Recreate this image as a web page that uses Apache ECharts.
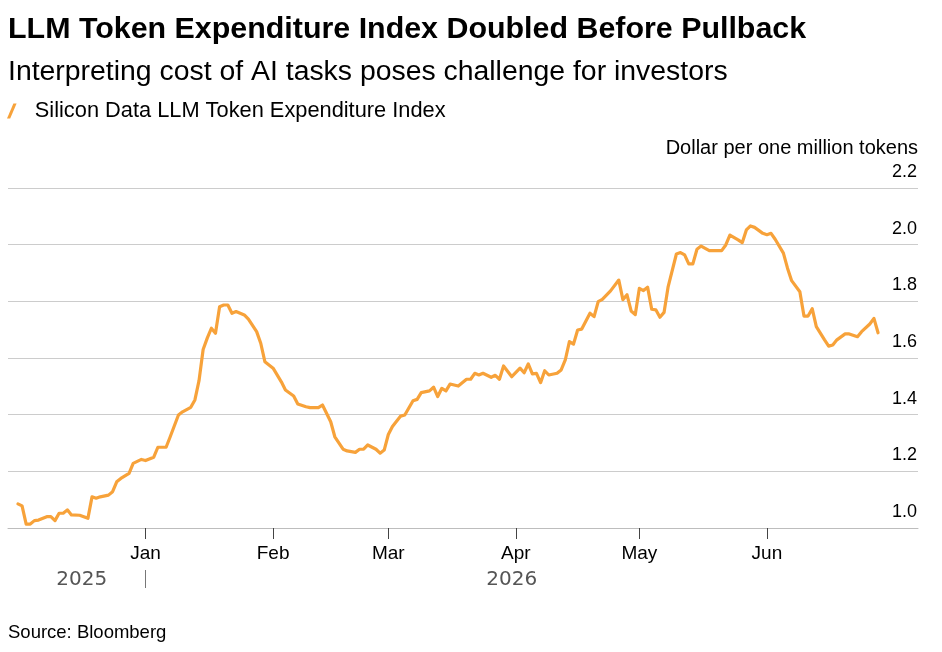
<!DOCTYPE html>
<html>
<head>
<meta charset="utf-8">
<script src="https://cdn.jsdelivr.net/npm/echarts@6/dist/echarts.min.js"></script>
<style>
html,body{margin:0;padding:0;background:#fff;}
#chart{width:942px;height:652px;}
</style>
</head>
<body>
<div id="chart"></div>
<script>
const TITLE = 'LLM Token Expenditure Index Doubled Before Pullback';
const SUBTITLE = 'Interpreting cost of AI tasks poses challenge for investors';
const SERIES_NAME = 'Silicon Data LLM Token Expenditure Index';
const UNIT = 'Dollar per one million tokens';
const SOURCE = 'Source: Bloomberg';

const dates = [
'2025-12-01','2025-12-02','2025-12-03','2025-12-04','2025-12-05','2025-12-06','2025-12-08','2025-12-09','2025-12-10','2025-12-11','2025-12-12','2025-12-13','2025-12-14','2025-12-16','2025-12-18','2025-12-19','2025-12-20','2025-12-21','2025-12-23','2025-12-24','2025-12-25','2025-12-26','2025-12-28','2025-12-29','2025-12-31',
'2026-01-01','2026-01-03','2026-01-04','2026-01-06','2026-01-07','2026-01-09','2026-01-10','2026-01-12','2026-01-13','2026-01-14','2026-01-15','2026-01-16','2026-01-17','2026-01-18','2026-01-19','2026-01-20','2026-01-21','2026-01-22','2026-01-23','2026-01-25','2026-01-26','2026-01-28','2026-01-29','2026-01-30',
'2026-02-01','2026-02-03','2026-02-04','2026-02-06','2026-02-07','2026-02-09','2026-02-10','2026-02-12','2026-02-13','2026-02-15','2026-02-16','2026-02-18','2026-02-19','2026-02-21','2026-02-22','2026-02-23','2026-02-24','2026-02-26','2026-02-27','2026-02-28',
'2026-03-01','2026-03-02','2026-03-04','2026-03-05','2026-03-07','2026-03-08','2026-03-09','2026-03-11','2026-03-12','2026-03-13','2026-03-14','2026-03-15','2026-03-16','2026-03-18','2026-03-20','2026-03-21','2026-03-22','2026-03-23','2026-03-24','2026-03-26','2026-03-27','2026-03-28','2026-03-29','2026-03-31',
'2026-04-02','2026-04-03','2026-04-04','2026-04-05','2026-04-06','2026-04-07','2026-04-08','2026-04-09','2026-04-11','2026-04-12','2026-04-13','2026-04-14','2026-04-15','2026-04-16','2026-04-17','2026-04-19','2026-04-20','2026-04-21','2026-04-22','2026-04-24','2026-04-26','2026-04-27','2026-04-28','2026-04-29','2026-04-30',
'2026-05-01','2026-05-02','2026-05-03','2026-05-04','2026-05-05','2026-05-06','2026-05-07','2026-05-08','2026-05-10','2026-05-11','2026-05-12','2026-05-13','2026-05-14','2026-05-15','2026-05-16','2026-05-18','2026-05-21','2026-05-22','2026-05-23','2026-05-25','2026-05-26','2026-05-27','2026-05-28','2026-05-29','2026-05-31',
'2026-06-01','2026-06-02','2026-06-03','2026-06-05','2026-06-06','2026-06-07','2026-06-09','2026-06-10','2026-06-11','2026-06-12','2026-06-13','2026-06-15','2026-06-16','2026-06-17','2026-06-18','2026-06-20','2026-06-21','2026-06-23','2026-06-24','2026-06-26','2026-06-27','2026-06-28'
];

const values = [
1.085,1.078,1.014,1.014,1.026,1.028,1.040,1.040,1.026,1.052,1.052,1.064,1.046,1.045,1.034,1.110,1.105,1.110,1.116,1.128,1.163,1.175,1.193,1.228,1.242,
1.238,1.250,1.285,1.285,1.322,1.399,1.410,1.426,1.452,1.520,1.630,1.670,1.705,1.687,1.781,1.787,1.787,1.758,1.764,1.752,1.737,1.693,1.652,1.587,
1.564,1.516,1.487,1.466,1.438,1.428,1.425,1.425,1.434,1.375,1.322,1.278,1.272,1.267,1.278,1.278,1.293,1.278,1.264,1.275,
1.330,1.358,1.395,1.399,1.449,1.454,1.478,1.484,1.497,1.464,1.493,1.484,1.508,1.501,1.525,1.525,1.546,1.540,1.546,1.532,1.539,1.525,1.572,1.534,
1.564,1.548,1.579,1.544,1.546,1.513,1.555,1.540,1.546,1.558,1.593,1.658,1.649,1.699,1.702,1.758,1.746,1.799,1.807,1.837,1.875,1.806,1.823,1.766,1.753,
1.846,1.838,1.850,1.772,1.770,1.744,1.761,1.852,1.967,1.972,1.964,1.932,1.932,1.984,1.995,1.979,1.979,1.999,2.034,2.017,2.007,2.052,2.066,2.061,2.040,
2.035,2.040,2.019,1.970,1.917,1.873,1.834,1.748,1.748,1.774,1.711,1.664,1.642,1.646,1.664,1.685,1.685,1.675,1.693,1.720,1.740,1.689
];

const monthTickDates = ['2026-01-01','2026-02-01','2026-03-01','2026-04-01','2026-05-01','2026-06-01'];
const monthNames = ['Jan','Feb','Mar','Apr','May','Jun','Jul','Aug','Sep','Oct','Nov','Dec'];
const yearDividerDates = ['2026-01-01'];
const yearLabelDates = ['2025-12-16T12:00:00','2026-03-31'];
const yearLabels = ['2025','2026'];
const yTicks = [1.0, 2.2, 0.2]; // min, max, interval

const ORANGE = '#F7A23A';
const FONT = 'Liberation Sans, Arial, sans-serif';

const ts = s => echarts.number.parseDate(s).getTime();
const xMin = new Date(2025, 10, 28, 14).getTime();
const xMax = new Date(2026, 6, 7, 17).getTime();
const monthTs = monthTickDates.map(ts);
const yearLabelTs = yearLabelDates.map(ts);

const chart = echarts.init(document.getElementById('chart'), null, {renderer: 'canvas'});

const option = {
  animation: false,
  textStyle: {fontFamily: FONT},
  title: [
    {text: TITLE, left: 8, top: 15, padding: 0,
     textStyle: {fontFamily: FONT, fontSize: 30.4, fontWeight: 'bold', color: '#000'}},
    {text: SUBTITLE, left: 8, top: 58, padding: 0,
     textStyle: {fontFamily: FONT, fontSize: 28.4, fontWeight: 'normal', color: '#000'}},
    {text: SOURCE, left: 8, top: 623, padding: 0,
     textStyle: {fontFamily: FONT, fontSize: 18.5, fontWeight: 'normal', color: '#000'}}
  ],
  legend: {
    left: 7, top: 100, padding: 0,
    icon: 'path://M0,15 L3.2,15 L9.6,0 L6.4,0 Z',
    itemWidth: 10, itemHeight: 15,
    textStyle: {fontFamily: FONT, fontSize: 21.8, color: '#000', padding: [0, 0, 0, 13]},
    data: [SERIES_NAME]
  },
  grid: {left: 8, right: 24, top: 188, bottom: 124, containLabel: false},
  xAxis: [
    {
      type: 'value', min: xMin, max: xMax,
      axisLine: {show: true, lineStyle: {color: '#bdbdbd', width: 1}},
      axisTick: {show: true, customValues: monthTs, length: 11,
                 lineStyle: {color: '#444', width: 1}},
      axisLabel: {customValues: monthTs, margin: 16,
                  formatter: v => monthNames[new Date(v).getMonth()],
                  fontFamily: FONT, fontSize: 19, color: '#000'},
      splitLine: {show: false}
    },
    {
      type: 'value', min: xMin, max: xMax, position: 'bottom', offset: 42,
      axisLine: {show: false},
      axisTick: {show: true, customValues: yearDividerDates.map(ts), length: 18,
                 lineStyle: {color: '#777', width: 1}},
      axisLabel: {customValues: yearLabelTs, margin: 0,
                  formatter: v => yearLabels[yearLabelTs.indexOf(v)],
                  fontFamily: 'DejaVu Sans, sans-serif', fontSize: 20, color: '#555'},
      splitLine: {show: false}
    }
  ],
  yAxis: {
    type: 'value', position: 'right',
    min: yTicks[0], max: yTicks[1], interval: yTicks[2],
    name: UNIT, nameLocation: 'end', nameGap: 30,
    nameTextStyle: {align: 'right', verticalAlign: 'bottom', fontFamily: FONT, fontSize: 20, color: '#000', padding: 0},
    axisLine: {show: false},
    axisTick: {show: false},
    axisLabel: {inside: true, margin: 1, verticalAlign: 'bottom', padding: [0, 0, 7, 0],
                formatter: v => v.toFixed(1), fontFamily: FONT, fontSize: 18, color: '#000'},
    splitLine: {show: true, lineStyle: {color: '#cccccc', width: 1}}
  },
  series: [{
    type: 'line', name: SERIES_NAME,
    data: dates.map((d, i) => [ts(d), values[i]]),
    showSymbol: false, symbol: 'none',
    lineStyle: {width: 3.2, color: ORANGE, join: 'round', cap: 'round'},
    itemStyle: {color: ORANGE},
    xAxisIndex: 0
  }]
};
chart.setOption(option);
</script>
</body>
</html>
